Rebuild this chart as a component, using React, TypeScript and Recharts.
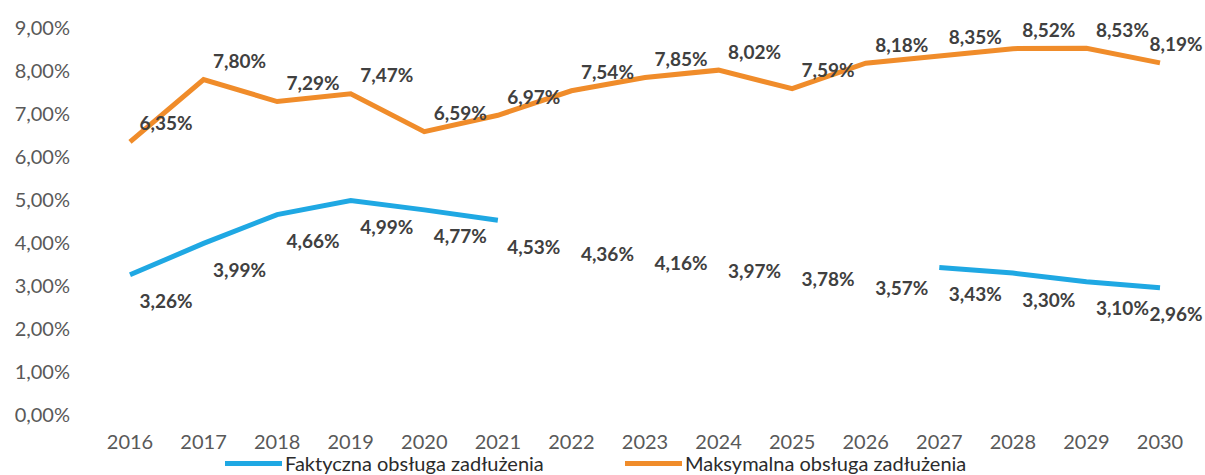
import { LineChart, Line, XAxis, YAxis, Legend } from 'recharts';

const years = ['2016', '2017', '2018', '2019', '2020', '2021', '2022', '2023', '2024', '2025', '2026', '2027', '2028', '2029', '2030'];

// Faktyczna obsługa zadłużenia (%)
const faktyczna = [3.26, 3.99, 4.66, 4.99, 4.77, 4.53, 4.36, 4.16, 3.97, 3.78, 3.57, 3.43, 3.30, 3.10, 2.96];
// Maksymalna obsługa zadłużenia (%)
const maksymalna = [6.35, 7.80, 7.29, 7.47, 6.59, 6.97, 7.54, 7.85, 8.02, 7.59, 8.18, 8.35, 8.52, 8.53, 8.19];

// in the source the blue line is not drawn over these years (labels still are)
const faktycznaHiddenYears = ['2022', '2023', '2024', '2025', '2026'];

const yTicks = [0, 1, 2, 3, 4, 5, 6, 7, 8, 9];

const BLUE = '#1fa8e3';
const ORANGE = '#f08c2a';
const FONT = 'Lato, "Open Sans", sans-serif';
const W = 1205;
const H = 475;

const data = years.map((year, i) => ({
    year,
    faktyczna: faktyczna[i],
    faktycznaLine: faktycznaHiddenYears.includes(year) ? null : faktyczna[i],
    maksymalna: maksymalna[i],
}));

const pct = (v: number) => `${v.toFixed(2).replace('.', ',')}%`;

const makeLabel = (dy: number) => (props: any) => {
    const { x, y, value, index } = props;
    if (value == null) return null;
    const lx = Math.min(x + 36, W - 29);
    return (
        <text
            key={`lbl-${dy}-${index}`}
            x={lx}
            y={y + dy}
            textAnchor="middle"
            dominantBaseline="central"
            fontFamily={FONT}
            fontSize={19}
            fontWeight={700}
            fill="#404040"
        >
            {pct(value)}
        </text>
    );
};

function LegendItem({ left, color, text }: { left: number; color: string; text: string }) {
    return (
        <div style={{ position: 'absolute', left, top: 8, display: 'flex', alignItems: 'center', height: 20 }}>
            <span style={{ display: 'inline-block', width: 57, height: 5, background: color, marginRight: 3 }} />
            <span style={{ lineHeight: '20px', whiteSpace: 'nowrap' }}>{text}</span>
        </div>
    );
}

const renderLegend = () => (
    <div style={{ position: 'relative', width: W, height: 30, fontFamily: FONT, fontSize: 20, color: '#2b2b2b' }}>
        <LegendItem left={225} color={BLUE} text="Faktyczna obsługa zadłużenia" />
        <LegendItem left={625} color={ORANGE} text="Maksymalna obsługa zadłużenia" />
    </div>
);

export default function App() {
    return (
        <div style={{ position: 'absolute', left: 0, top: 0, width: W, height: H, background: '#fff' }}>
            <LineChart width={W} height={H} data={data} margin={{ top: 28, right: 8, left: 0, bottom: 0 }}>
                <XAxis
                    dataKey="year"
                    axisLine={false}
                    tickLine={false}
                    tickSize={0}
                    tickMargin={20}
                    height={30}
                    interval={0}
                    padding={{ left: 37, right: 37 }}
                    tick={{ fontFamily: FONT, fontSize: 20, fill: '#595959' }}
                />
                <YAxis
                    type="number"
                    domain={[0, 9]}
                    ticks={yTicks}
                    width={93}
                    axisLine={false}
                    tickLine={false}
                    tickSize={0}
                    tickMargin={23}
                    tickFormatter={pct}
                    tick={{ fontFamily: FONT, fontSize: 20, fill: '#595959' }}
                />
                <Legend verticalAlign="bottom" content={renderLegend} />
                <Line
                    dataKey="faktycznaLine"
                    name="Faktyczna obsługa zadłużenia"
                    stroke={BLUE}
                    strokeWidth={5}
                    dot={false}
                    activeDot={false}
                    isAnimationActive={false}
                />
                <Line
                    dataKey="maksymalna"
                    name="Maksymalna obsługa zadłużenia"
                    stroke={ORANGE}
                    strokeWidth={5}
                    dot={false}
                    activeDot={false}
                    isAnimationActive={false}
                    label={makeLabel(-19)}
                />
                <Line
                    dataKey="faktyczna"
                    stroke="none"
                    legendType="none"
                    dot={false}
                    activeDot={false}
                    isAnimationActive={false}
                    label={makeLabel(26)}
                />
            </LineChart>
        </div>
    );
}
